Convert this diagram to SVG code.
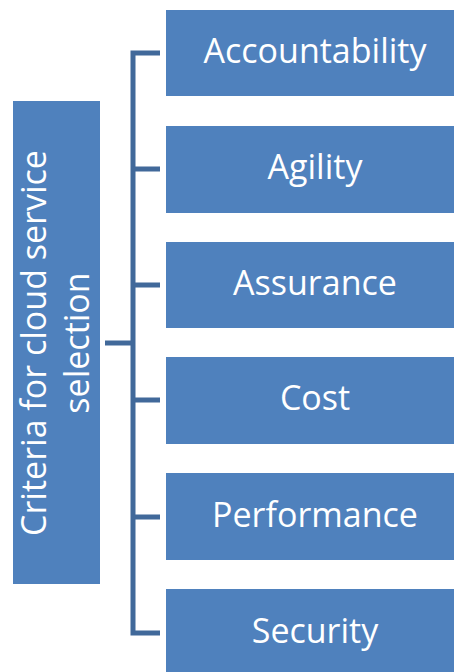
<svg xmlns="http://www.w3.org/2000/svg" width="454" height="672" viewBox="0 0 454 672">
<style>
.box{fill:#4F81BD;}
.lbl{fill:#fff;font-family:"Open Sans","Noto Sans",sans-serif;font-size:34px;text-anchor:middle;}
.conn{stroke:#41699A;stroke-width:5;fill:none;stroke-linecap:butt;}
</style>
<rect width="454" height="672" fill="#fff"/>
<g id="connectors">
<path class="conn" d="M160 53 H133 V633 H160"/>
<path class="conn" d="M133 169 H160 M133 285 H160 M133 400 H160 M133 517 H160"/>
<path class="conn" d="M105 343 H133"/>
</g>
<g id="root">
<rect class="box" x="13" y="101" width="87" height="483"/>
<text class="lbl" transform="translate(46,343) rotate(-90)">Criteria for cloud service</text>
<text class="lbl" transform="translate(89,343) rotate(-90)">selection</text>
</g>
<g id="n1"><rect class="box" x="166" y="10" width="300" height="86"/><text class="lbl" x="315" y="63">Accountability</text></g>
<g id="n2"><rect class="box" x="166" y="126" width="300" height="87"/><text class="lbl" x="315" y="179">Agility</text></g>
<g id="n3"><rect class="box" x="166" y="242" width="300" height="86"/><text class="lbl" x="315" y="295">Assurance</text></g>
<g id="n4"><rect class="box" x="166" y="357" width="300" height="87"/><text class="lbl" x="315" y="410">Cost</text></g>
<g id="n5"><rect class="box" x="166" y="473" width="300" height="87"/><text class="lbl" x="315" y="527">Performance</text></g>
<g id="n6"><rect class="box" x="166" y="589" width="300" height="87"/><text class="lbl" x="315" y="643">Security</text></g>
</svg>
